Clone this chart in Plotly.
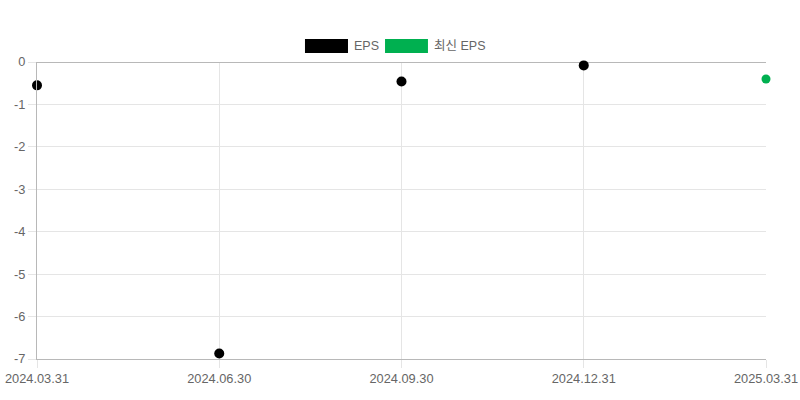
import plotly.graph_objects as go

# EPS data
dates = ["2024.03.31", "2024.06.30", "2024.09.30", "2024.12.31", "2025.03.31"]
eps = [-0.55, -6.87, -0.46, -0.08, None]
latest_eps = [None, None, None, None, -0.40]
y_ticks = [0, -1, -2, -3, -4, -5, -6, -7]

x_pos = list(range(len(dates)))

fig = go.Figure()
fig.add_trace(go.Scatter(x=x_pos, y=eps, mode="markers", name="EPS",
                         marker=dict(color="#000000", size=10),
                         cliponaxis=False, showlegend=False))
fig.add_trace(go.Scatter(x=x_pos, y=latest_eps, mode="markers", name="최신 EPS",
                         marker=dict(color="#00b050", size=9),
                         cliponaxis=False, showlegend=False))

# legend drawn by hand, chart.js style boxes
fig.add_shape(type="rect", xref="paper", yref="paper",
              x0=0.3676, x1=0.4266, y0=1.0303, y1=1.0774,
              fillcolor="#000000", line=dict(width=0))
fig.add_shape(type="rect", xref="paper", yref="paper",
              x0=0.4774, x1=0.5363, y0=1.0303, y1=1.0774,
              fillcolor="#00b050", line=dict(width=0))
fig.add_annotation(xref="paper", yref="paper", x=0.4321, y=1.0539,
                   text="EPS", showarrow=False, xanchor="left", yanchor="middle",
                   font=dict(size=12.5, color="#666666"))
fig.add_annotation(xref="paper", yref="paper", x=0.5418, y=1.0539,
                   text="최신 EPS", showarrow=False, xanchor="left", yanchor="middle",
                   font=dict(size=12.5, color="#666666"))

fig.update_xaxes(range=[0, len(dates) - 1], tickvals=x_pos, ticktext=dates,
                 showgrid=True, gridcolor="#e5e5e5", zeroline=False,
                 showline=True, linecolor="#b8b8b8", mirror=False,
                 ticks="outside", ticklen=8, tickcolor="#e5e5e5",
                 tickfont=dict(size=12.8, color="#666666"), automargin=False)
fig.update_yaxes(range=[-7, 0], tickvals=y_ticks,
                 ticktext=[str(v) if v == 0 else "-" + str(-v) for v in y_ticks],
                 showgrid=True, gridcolor="#e5e5e5", zeroline=True,
                 zerolinecolor="#b8b8b8", zerolinewidth=1,
                 showline=True, linecolor="#b8b8b8",
                 ticks="outside", ticklen=8, tickcolor="#e5e5e5",
                 tickfont=dict(size=12.8, color="#666666"), automargin=False)

fig.update_layout(width=800, height=400,
                  margin=dict(l=37, r=34, t=62, b=41),
                  plot_bgcolor="white", paper_bgcolor="white",
                  font=dict(family="Liberation Sans, Arial, Noto Sans CJK KR", color="#666666"))

# page body has a default margin, drop it so the figure sits at 0,0
fig.write_html("out.html", config={"displayModeBar": False},
               post_script="document.body.style.margin='0';")
